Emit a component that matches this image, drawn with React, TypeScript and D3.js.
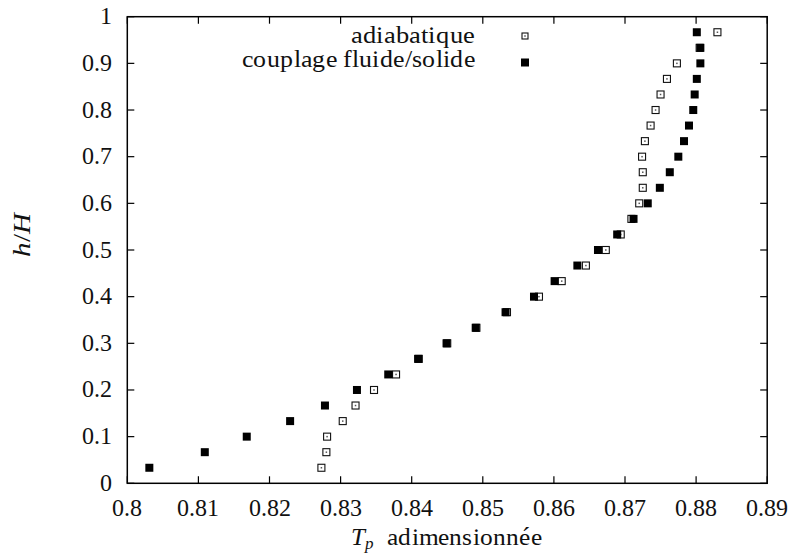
import React, { useEffect, useState } from "react";
import * as d3 from "d3";

const hLevels = [
  0.0333, 0.0667, 0.1, 0.1333, 0.1667, 0.2, 0.2333, 0.2667, 0.3, 0.3333,
  0.3667, 0.4, 0.4333, 0.4667, 0.5, 0.5333, 0.5667, 0.6, 0.6333, 0.6667,
  0.7, 0.7333, 0.7667, 0.8, 0.8333, 0.8667, 0.9, 0.9333, 0.9667,
];
const adiabatique = [
  0.8273, 0.828, 0.8281, 0.8303, 0.8321, 0.8347, 0.8378, 0.841, 0.845, 0.8491,
  0.8534, 0.8579, 0.8611, 0.8645, 0.8673, 0.8694, 0.8709, 0.872, 0.8725, 0.8725,
  0.8724, 0.8728, 0.8736, 0.8743, 0.875, 0.8759, 0.8773, 0.8805, 0.883,
];
const couplage = [
  0.8031, 0.8109, 0.8168, 0.8229, 0.8278, 0.8323, 0.8367, 0.8409, 0.8449, 0.849,
  0.8532, 0.8572, 0.8601, 0.8633, 0.8662, 0.8689, 0.8712, 0.8732, 0.8749, 0.8763,
  0.8775, 0.8783, 0.879, 0.8796, 0.8798, 0.8801, 0.8806, 0.8806, 0.8801,
];
const xTicks = [0.8, 0.81, 0.82, 0.83, 0.84, 0.85, 0.86, 0.87, 0.88, 0.89];
const xTickLabels = ["0.8", "0.81", "0.82", "0.83", "0.84", "0.85", "0.86", "0.87", "0.88", "0.89"];
const yTicks = [0, 0.1, 0.2, 0.3, 0.4, 0.5, 0.6, 0.7, 0.8, 0.9, 1];
const yTickLabels = ["0", "0.1", "0.2", "0.3", "0.4", "0.5", "0.6", "0.7", "0.8", "0.9", "1"];
const legendLabels = ["adiabatique", "couplage fluide/solide"];

const W = 794;
const H = 560;
const L = 127.3;
const R = 767.2;
const T = 16.7;
const B = 483.3;
const FONT = '"ChartSerif", "Liberation Serif", "Times New Roman", "DejaVu Serif", serif';
const fontCss = `
@font-face { font-family: "ChartSerif"; font-style: normal; font-weight: 400; src: local("Liberation Serif"), local("LiberationSerif"), local("Liberation Serif Regular"), local("LiberationSerif-Regular"); }
@font-face { font-family: "ChartSerif"; font-style: italic; font-weight: 400; src: local("Liberation Serif Italic"), local("LiberationSerif-Italic"); }
`;

export default function App() {
  const [ver, setVer] = useState(0);
  useEffect(() => {
    const fonts: any = (document as any).fonts;
    if (fonts && fonts.load) {
      Promise.all([fonts.load('24px "ChartSerif"'), fonts.load('24px "Liberation Serif"')])
        .catch(() => null)
        .then(() => setVer((v) => v + 1));
    }
    const t = setTimeout(() => setVer((v) => v + 1), 150);
    return () => clearTimeout(t);
  }, []);

  const x = d3.scaleLinear().domain([0.8, 0.89]).range([L, R]);
  const y = d3.scaleLinear().domain([0, 1]).range([B, T]);
  const tick = 7;
  const open = 7;
  const filled = 8;
  const ts: React.CSSProperties = { fontFamily: FONT };

  const OpenMark = ({ cx, cy, s }: { cx: number; cy: number; s: number }) => (
    <g>
      <rect x={cx - s / 2} y={cy - s / 2} width={s} height={s} fill="white" stroke="#111" strokeWidth={1.1} />
      <rect x={cx - 0.75} y={cy - 0.75} width={1.5} height={1.5} fill="#555" />
    </g>
  );

  return (
    <div style={{ position: "absolute", left: 0, top: 0 }}>
      <style>{fontCss}</style>
      <svg width={W} height={H} key={"v" + ver}>
        <rect x={0} y={0} width={W} height={H} fill="white" />
        {xTicks.map((t, i) => (
          <g key={"xt" + i}>
            <line x1={x(t)} x2={x(t)} y1={B} y2={B - tick} stroke="black" strokeWidth={1.2} />
            <line x1={x(t)} x2={x(t)} y1={T} y2={T + tick} stroke="black" strokeWidth={1.2} />
            <text x={x(t)} y={516} textAnchor="middle" fontSize={24} style={ts} fill="#111">
              {xTickLabels[i]}
            </text>
          </g>
        ))}
        {yTicks.map((t, i) => (
          <g key={"yt" + i}>
            <line x1={L} x2={L + tick} y1={y(t)} y2={y(t)} stroke="black" strokeWidth={1.2} />
            <line x1={R} x2={R - tick} y1={y(t)} y2={y(t)} stroke="black" strokeWidth={1.2} />
            <text x={111.7} y={y(t) + 7.5} textAnchor="end" fontSize={24} style={ts} fill="#111">
              {yTickLabels[i]}
            </text>
          </g>
        ))}
        <rect x={L} y={T} width={R - L} height={B - T} fill="none" stroke="black" strokeWidth={1.5} />

        {adiabatique.map((v, i) => (
          <OpenMark key={"a" + i} cx={x(v)} cy={y(hLevels[i])} s={open} />
        ))}
        {couplage.map((v, i) => (
          <rect
            key={"c" + i}
            x={x(v) - filled / 2}
            y={y(hLevels[i]) - filled / 2}
            width={filled}
            height={filled}
            fill="black"
          />
        ))}

        <text x={475} y={42.7} textAnchor="end" fontSize={25} textLength={124} lengthAdjust="spacingAndGlyphs" style={ts} fill="#111">
          {legendLabels[0]}
        </text>
        <OpenMark cx={525} cy={36} s={6} />
        <text x={475} y={66.7} textAnchor="end" fontSize={25} textLength={233} lengthAdjust="spacingAndGlyphs" style={ts} fill="#111">
          {legendLabels[1]}
        </text>
        <rect x={525 - 4} y={62.5 - 4} width={8} height={8} fill="black" />

        <text x={350.7} y={545} fontSize={25} fontStyle="italic" style={ts} fill="#111">T</text>
        <text x={364.5} y={549} fontSize={17} fontStyle="italic" style={ts} fill="#111">p</text>
        <text x={387.3} y={545} fontSize={25} textLength={154.4} lengthAdjust="spacingAndGlyphs" style={ts} fill="#111">
          adimensionnée
        </text>

        <text
          transform="translate(30, 235) rotate(-90)"
          textAnchor="middle"
          fontSize={25}
          textLength={44}
          lengthAdjust="spacingAndGlyphs"
          style={ts}
          fill="#111"
        >
          <tspan fontStyle="italic">h</tspan>
          <tspan>/</tspan>
          <tspan fontStyle="italic">H</tspan>
        </text>
      </svg>
    </div>
  );
}
